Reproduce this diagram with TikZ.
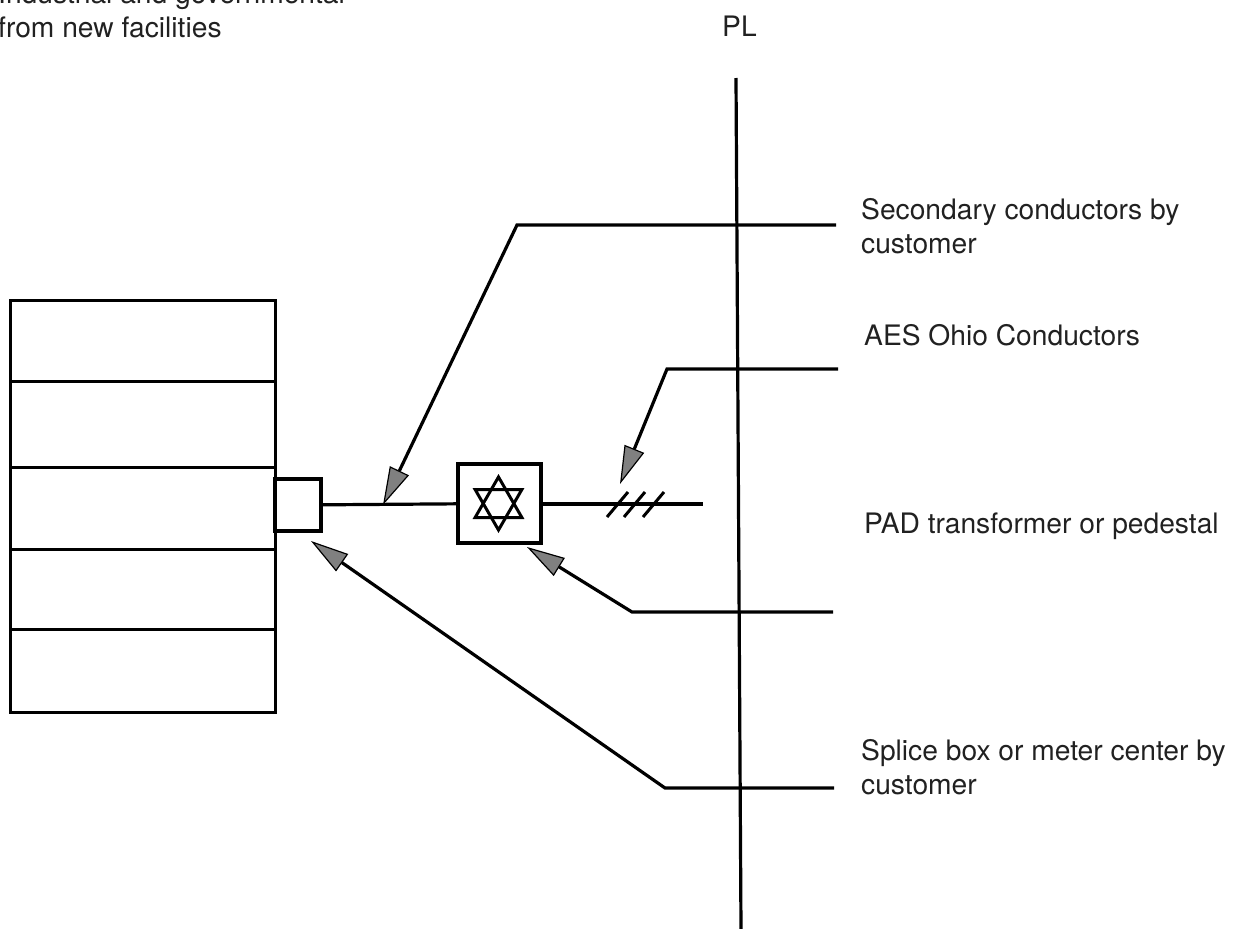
\documentclass[tikz,border=0pt]{standalone}
\usepackage{fontspec}
\setmainfont{TeX Gyre Heros}
\usepackage{xcolor}
\usetikzlibrary{arrows.meta, positioning, shapes.geometric}

\begin{document}
\begin{tikzpicture}[x=1pt, y=-1pt,
    floor/.style={rectangle, draw=black, line width=3pt, minimum width=265pt, inner sep=0pt, outer sep=0pt},
    unitbox/.style={rectangle, draw=black, line width=3.2pt, inner sep=0pt, outer sep=0pt},
    startri/.style={regular polygon, regular polygon sides=3, draw=black, line width=3pt, minimum size=54pt, inner sep=0pt},
    label/.style={anchor=west, align=left, inner sep=0pt, text=black!87, font=\fontsize{28.2}{34}\selectfont},
    wire/.style={line width=3.2pt},
    arr/.style={line width=3.2pt, -{Triangle[length=38pt, width=21pt, fill=black!50, line width=1.2pt]}}
]
\useasboundingbox (0,0) rectangle (1245,929);

% building
\node[floor, minimum height=81pt] (floor1) at (142.5,340.5) {};
\node[floor, minimum height=86pt, below=0pt of floor1] (floor2) {};
\node[floor, minimum height=82pt, below=0pt of floor2] (floor3) {};
\node[floor, minimum height=80pt, below=0pt of floor3] (floor4) {};
\node[floor, minimum height=83pt, below=0pt of floor4] (floor5) {};

% splice box and transformer
\node[unitbox, minimum width=46pt, minimum height=52pt] (splice) at (298,505) {};
\node[unitbox, minimum width=83pt, minimum height=79pt] (pad) at (499.5,503.5) {};
\node[startri] (starup) at (498.5,504) {};
\node[startri, shape border rotate=180] (stardown) at (498.5,503) {};
\coordinate (feedend) at (703,504);
\draw[wire] (splice) -- (pad);
\draw[wire] (pad.east |- feedend) -- (feedend);
\foreach \x in {607,624,643} {
    \draw[line width=3pt] (\x,517) -- (\x+21,492);
}

% property line
\coordinate (pltop) at (736,78);
\coordinate (plbot) at (741,929);
\draw[wire] (pltop) -- (plbot);

% leaders
\coordinate (secend) at (836,225);
\coordinate (secbend) at (517,225);
\coordinate (sectip) at (383,505);
\coordinate (aesend) at (838,369);
\coordinate (aesbend) at (667,369);
\coordinate (aestip) at (620,484);
\coordinate (padend) at (833,612);
\coordinate (padbend) at (632,612);
\coordinate (padtip) at (527,547);
\coordinate (spliceend) at (834,788);
\coordinate (splicebend) at (665,788);
\coordinate (splicetip) at (311,541);
\draw[arr] (secend) -- (secbend) -- (sectip);
\draw[arr] (aesend) -- (aesbend) -- (aestip);
\draw[arr] (padend) -- (padbend) -- (padtip);
\draw[arr] (spliceend) -- (splicebend) -- (splicetip);

% labels
\node[label] (title) at (-2,10) {Industrial and governmental\\from new facilities};
\node[label] (pl) at (722,26) {PL};
\node[label] (seclabel) at (861,226) {Secondary conductors by\\customer};
\node[label] (aeslabel) at (864,335) {AES Ohio Conductors};
\node[label] (padlabel) at (864,526) {PAD transformer or pedestal};
\node[label] (splicelabel) at (861,767) {Splice box or meter center by\\customer};
\end{tikzpicture}
\end{document}
